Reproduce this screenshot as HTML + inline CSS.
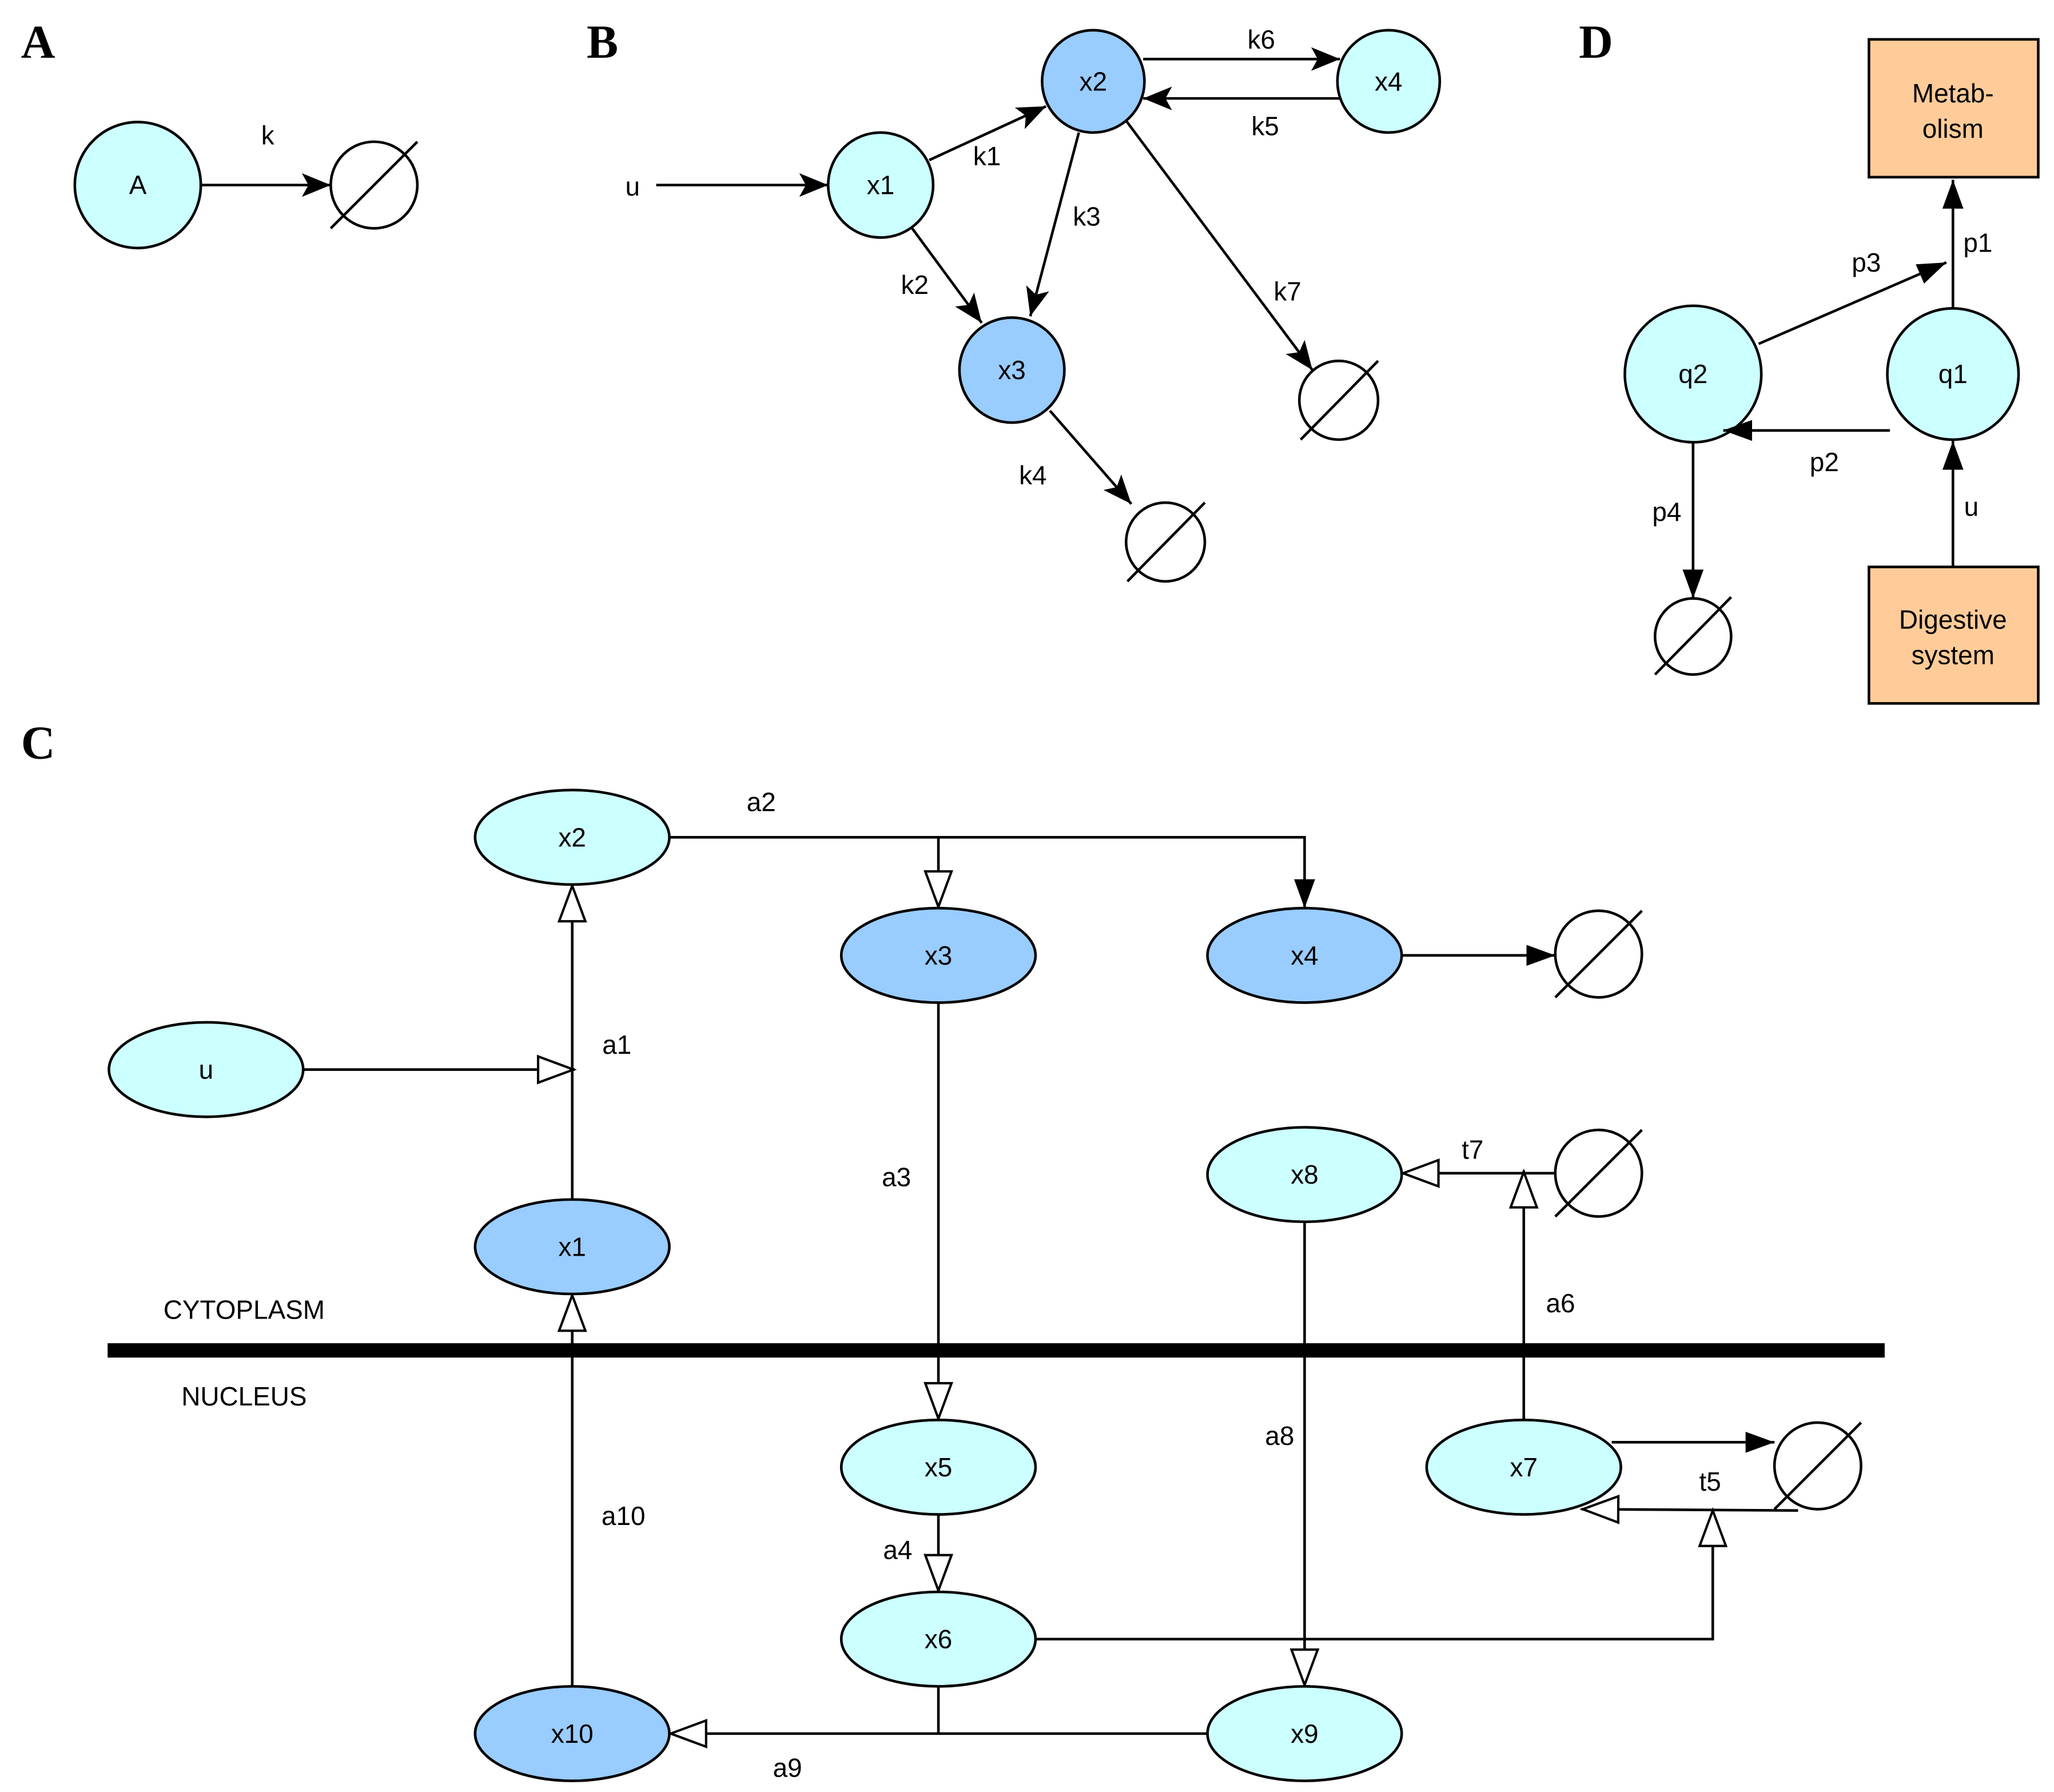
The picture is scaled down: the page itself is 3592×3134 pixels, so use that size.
<!DOCTYPE html>
<html><head><meta charset="utf-8"><style>html,body{margin:0;padding:0;background:#fff}svg{display:block}</style></head><body>
<svg xmlns="http://www.w3.org/2000/svg" width="3592" height="3134" viewBox="0 0 1565 1365.5" preserveAspectRatio="none" font-family="Liberation Sans, sans-serif" font-size="20">
<defs>
<marker id="f" markerUnits="userSpaceOnUse" markerWidth="24" markerHeight="20" refX="22" refY="10" orient="auto"><path d="M0,1 L22,10 L0,19 L5,10 Z" fill="#000"/></marker>
<marker id="t" markerUnits="userSpaceOnUse" markerWidth="24" markerHeight="20" refX="22" refY="10" orient="auto"><path d="M0,2 L22,10 L0,18 Z" fill="#000"/></marker>
<marker id="o" markerUnits="userSpaceOnUse" markerWidth="32" markerHeight="24" refX="30" refY="12" orient="auto"><path d="M2,2 L29,12 L2,22 Z" fill="#fff" stroke="#000" stroke-width="1.8"/></marker>
</defs>
<g font-family="Liberation Serif, serif" font-weight="bold" font-size="36">
<text x="16" y="44">A</text><text x="447" y="44">B</text><text x="1203" y="44">D</text><text x="16" y="578">C</text>
</g>
<g stroke="#000" stroke-width="2" fill="none">
<!-- A -->
<circle cx="105" cy="141" r="48" fill="#ccffff"/>
<line x1="153" y1="141" x2="252" y2="141" marker-end="url(#f)"/>
<circle cx="285" cy="141" r="33"/><line x1="252" y1="174" x2="318" y2="108"/>
<!-- B -->
<circle cx="671" cy="141" r="40" fill="#ccffff"/>
<circle cx="833" cy="62" r="39" fill="#99ccff"/>
<circle cx="1058" cy="62" r="39" fill="#ccffff"/>
<circle cx="771" cy="282" r="40" fill="#99ccff"/>
<circle cx="1020" cy="305" r="30"/><line x1="991" y1="335" x2="1050" y2="275"/>
<circle cx="888" cy="413" r="30"/><line x1="859" y1="443" x2="918" y2="383"/>
<line x1="500" y1="141" x2="631" y2="141" marker-end="url(#f)"/>
<line x1="708" y1="122" x2="797" y2="81" marker-end="url(#f)"/>
<line x1="695" y1="174" x2="748" y2="246" marker-end="url(#f)"/>
<line x1="822" y1="101" x2="785" y2="241" marker-end="url(#f)"/>
<line x1="871" y1="45" x2="1021" y2="45" marker-end="url(#f)"/>
<line x1="1021" y1="75" x2="871" y2="75" marker-end="url(#f)"/>
<line x1="858" y1="92" x2="1000" y2="282" marker-end="url(#f)"/>
<line x1="800" y1="313" x2="862" y2="384" marker-end="url(#f)"/>
<!-- D -->
<rect x="1424" y="30" width="129" height="105" fill="#ffcc99"/>
<rect x="1424" y="432" width="129" height="104" fill="#ffcc99"/>
<circle cx="1488" cy="285" r="50" fill="#ccffff"/>
<circle cx="1290" cy="285" r="52" fill="#ccffff"/>
<circle cx="1290" cy="485" r="29"/><line x1="1261" y1="514" x2="1319" y2="455"/>
<line x1="1488" y1="235" x2="1488" y2="137" marker-end="url(#t)"/>
<line x1="1340" y1="262" x2="1483" y2="200" marker-end="url(#t)"/>
<line x1="1440" y1="328" x2="1313" y2="328" marker-end="url(#t)"/>
<line x1="1488" y1="432" x2="1488" y2="336" marker-end="url(#t)"/>
<line x1="1290" y1="337" x2="1290" y2="456" marker-end="url(#t)"/>
<!-- C -->
<line x1="82" y1="1029" x2="1436" y2="1029" stroke-width="11"/>
<polyline points="510,638 994,638 994,692" marker-end="url(#t)"/>
<line x1="715" y1="638" x2="715" y2="692" marker-end="url(#o)"/>
<line x1="1068" y1="728" x2="1185" y2="728" marker-end="url(#t)"/>
<line x1="436" y1="914" x2="436" y2="674" marker-end="url(#o)"/>
<line x1="231" y1="815" x2="438" y2="815" marker-end="url(#o)"/>
<line x1="715" y1="764" x2="715" y2="1082" marker-end="url(#o)"/>
<line x1="436" y1="1285" x2="436" y2="986" marker-end="url(#o)"/>
<line x1="715" y1="1154" x2="715" y2="1213" marker-end="url(#o)"/>
<line x1="994" y1="931" x2="994" y2="1285" marker-end="url(#o)"/>
<line x1="1185" y1="894" x2="1068" y2="894" marker-end="url(#o)"/>
<line x1="1161" y1="1082" x2="1161" y2="892" marker-end="url(#o)"/>
<line x1="1228" y1="1099" x2="1352" y2="1099" marker-end="url(#t)"/>
<line x1="1370" y1="1151" x2="1205" y2="1150" marker-end="url(#o)"/>
<polyline points="789,1249 1305,1249 1305,1150" marker-end="url(#o)"/>
<line x1="920" y1="1321" x2="510" y2="1321" marker-end="url(#o)"/>
<line x1="715" y1="1285" x2="715" y2="1321"/>
<g fill="#ccffff">
<ellipse cx="436" cy="638" rx="74" ry="36"/>
<ellipse cx="157" cy="815" rx="74" ry="36"/>
<ellipse cx="994" cy="895" rx="74" ry="36"/>
<ellipse cx="715" cy="1118" rx="74" ry="36"/>
<ellipse cx="715" cy="1249" rx="74" ry="36"/>
<ellipse cx="1161" cy="1118" rx="74" ry="36"/>
<ellipse cx="994" cy="1321" rx="74" ry="36"/>
</g>
<g fill="#99ccff">
<ellipse cx="715" cy="728" rx="74" ry="36"/>
<ellipse cx="994" cy="728" rx="74" ry="36"/>
<ellipse cx="436" cy="950" rx="74" ry="36"/>
<ellipse cx="436" cy="1321" rx="74" ry="36"/>
</g>
<circle cx="1218" cy="727" r="33"/><line x1="1185" y1="760" x2="1251" y2="694"/>
<circle cx="1218" cy="894" r="33"/><line x1="1185" y1="927" x2="1251" y2="861"/>
<circle cx="1385" cy="1117" r="33"/><line x1="1352" y1="1150" x2="1418" y2="1084"/>
</g>
<g text-anchor="middle" dominant-baseline="central" fill="#000">
<text x="105" y="141">A</text><text x="204" y="103">k</text>
<text x="482" y="142">u</text>
<text x="671" y="141">x1</text><text x="833" y="62">x2</text><text x="1058" y="62">x4</text><text x="771" y="282">x3</text>
<text x="752" y="119">k1</text><text x="697" y="217">k2</text><text x="828" y="165">k3</text><text x="961" y="30">k6</text><text x="964" y="96">k5</text><text x="981" y="222">k7</text><text x="787" y="362">k4</text>
<text x="1488" y="71">Metab-</text><text x="1488" y="98">olism</text>
<text x="1488" y="472">Digestive</text><text x="1488" y="499">system</text>
<text x="1488" y="285">q1</text><text x="1290" y="285">q2</text>
<text x="1507" y="185">p1</text><text x="1422" y="200">p3</text><text x="1390" y="352">p2</text><text x="1502" y="386">u</text><text x="1270" y="390">p4</text>
<text x="436" y="638">x2</text><text x="715" y="728">x3</text><text x="994" y="728">x4</text><text x="157" y="815">u</text><text x="994" y="895">x8</text><text x="436" y="950">x1</text><text x="715" y="1118">x5</text><text x="715" y="1249">x6</text><text x="1161" y="1118">x7</text><text x="994" y="1321">x9</text><text x="436" y="1321">x10</text>
<text x="580" y="611">a2</text><text x="470" y="796">a1</text><text x="683" y="897">a3</text><text x="475" y="1155">a10</text><text x="684" y="1181">a4</text><text x="975" y="1094">a8</text><text x="1122" y="876">t7</text><text x="1189" y="993">a6</text><text x="1303" y="1129">t5</text><text x="600" y="1347">a9</text>
<text x="186" y="998">CYTOPLASM</text><text x="186" y="1064">NUCLEUS</text>
</g>
</svg>
</body></html>
